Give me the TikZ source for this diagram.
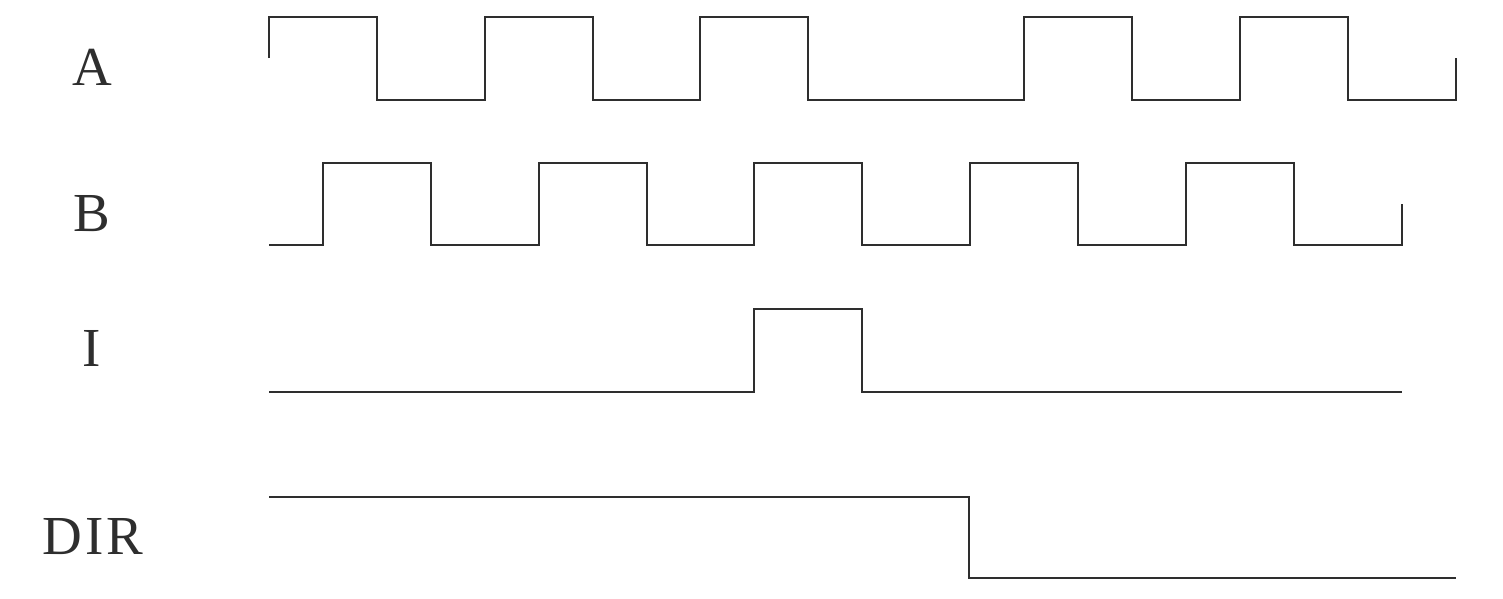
\documentclass[tikz,border=0pt]{standalone}
\usepackage{fontspec}
\setmainfont{Liberation Serif}
\newfontfamily\spacedfont[LetterSpace=6]{Liberation Serif}
\definecolor{wave}{HTML}{2E2E2E}
\begin{document}
\begin{tikzpicture}[x=1pt,y=-1pt,
  wire/.style={draw=wave,line width=2.6pt,line join=miter},
  lab/.style={font=\fontsize{55}{60}\selectfont,text=wave,inner sep=0pt,anchor=center}]
\useasboundingbox (0,0) rectangle (1503,598);
% labels
\node[lab] (lA) at (92,67) {A};
\node[lab] (lB) at (92,214) {B};
\node[lab] (lI) at (92,348) {I};
\node[lab,font=\spacedfont\fontsize{55}{60}\selectfont] (lD) at (93,537) {DIR};
% A
\draw[wire] (269,58) -- (269,17) -- (377,17) -- (377,100) -- (485,100) -- (485,17)
  -- (593,17) -- (593,100) -- (700,100) -- (700,17) -- (808,17) -- (808,100)
  -- (1024,100) -- (1024,17) -- (1132,17) -- (1132,100) -- (1240,100) -- (1240,17)
  -- (1348,17) -- (1348,100) -- (1456,100) -- (1456,58);
% B
\draw[wire] (269,245) -- (323,245) -- (323,163) -- (431,163) -- (431,245) -- (539,245)
  -- (539,163) -- (647,163) -- (647,245) -- (754,245) -- (754,163) -- (862,163)
  -- (862,245) -- (970,245) -- (970,163) -- (1078,163) -- (1078,245) -- (1186,245)
  -- (1186,163) -- (1294,163) -- (1294,245) -- (1402,245) -- (1402,204);
% I
\draw[wire] (269,392) -- (754,392) -- (754,309) -- (862,309) -- (862,392) -- (1402,392);
% DIR
\draw[wire] (269,497) -- (969,497) -- (969,578) -- (1456,578);
\end{tikzpicture}
\end{document}
